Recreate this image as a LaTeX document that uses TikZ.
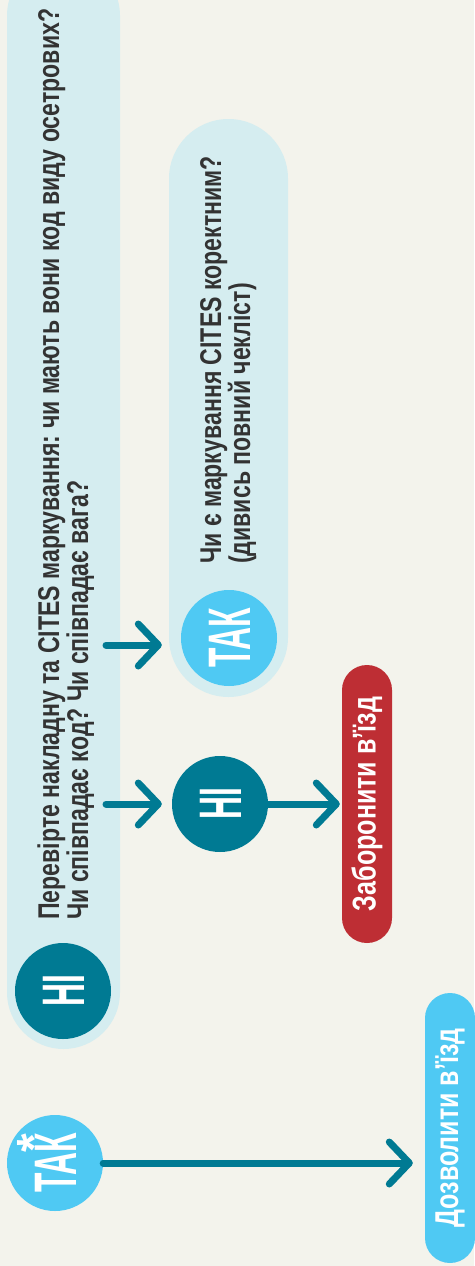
\documentclass[tikz,border=0pt]{standalone}
\usepackage{fontspec}
\setmainfont{Liberation Sans}
\newfontfamily\bodycond{Liberation Sans}[FakeStretch=0.77]
\newfontfamily\labelcond{Liberation Sans}[FakeStretch=0.76]
\newfontfamily\badgecond{Liberation Sans}[FakeStretch=0.53]
\usepackage{tikz}
\usetikzlibrary{arrows.meta, shapes.misc}
\definecolor{pageback}{HTML}{F3F3EC}
\definecolor{paleblue}{HTML}{D5EDF0}
\definecolor{deepteal}{HTML}{007A93}
\definecolor{skyblue}{HTML}{4FC9F3}
\definecolor{alarmred}{HTML}{BE2E34}
\definecolor{inkgrey}{HTML}{333333}
\frenchspacing
\tikzset{pill/.style={rounded rectangle, rotate=90, inner sep=0pt, fill=#1},
    badge/.style={circle, fill=#1, minimum size=96pt, inner sep=0pt, rotate=90, text=white,
        text height=43pt, text depth=0pt, font=\badgecond\bfseries\fontsize{60}{60}\selectfont},
    question/.style={rotate=90, anchor=base west, align=left, inner sep=0pt, text=inkgrey,
        font=\bodycond\bfseries\fontsize{30}{29}\selectfont},
    verdict/.style={text=white, font=\labelcond\bfseries\fontsize{33}{33}\selectfont},
    flow/.style={deepteal, line width=7pt, line cap=round, -{Straight Barb[length=20pt,width=42pt,round]}}}

\begin{document}
\begin{tikzpicture}[x=1pt, y=1pt]
    \fill[pageback] (0,0) rectangle (474,-1266);
    \useasboundingbox (0,0) rectangle (474,-1266);

    % invoice and CITES labels
    \node [pill=paleblue, minimum width=1090pt, minimum height=113pt] (invoice) at (63.5,-504) {};
    \node [badge=deepteal] (no1) at (63,-991) {НІ};
    \node [question] (q1) at (88,-920) {Перевірте накладну та CITES маркування: чи мають вони код виду осетрових?\\
        Чи співпадає код? Чи співпадає вага?};

    % CITES marking check
    \node [pill=paleblue, minimum width=578pt, minimum height=119pt] (cites) at (228.5,-408) {};
    \node [badge=skyblue] (yes2) at (229,-638) {ТАК};
    \node [question] (q2) at (250,-564) {Чи є маркування CITES коректним?\\(дивись повний чекліст)};

    \node [badge=deepteal] (no2) at (220,-804) {НІ};
    \node [pill=alarmred, verdict, minimum width=278pt, minimum height=50pt] (deny) at (367,-804) {Заборонити в’їзд};

    \node [badge=skyblue] (yes1) at (55,-1163) {ТАК\llap{\smash{\raisebox{26pt}{\rmfamily\fontsize{48}{48}\selectfont *}}\kern1pt}};
    \node [pill=skyblue, verdict, minimum width=270pt, minimum height=50pt] (allow) at (450,-1128) {Дозволити в’їзд};

    \coordinate (s1) at (106,-645);
    \coordinate (s2) at (106,-804);

    \draw[flow, shorten >=7pt] (s1) -- (s1 -| cites.north);
    \draw[flow, shorten >=10pt] (s2) -- (no2);
    \draw[flow, shorten >=2pt] (no2) -- (deny);
    \draw[flow, shorten >=12pt] (yes1) -- (yes1 -| allow.north);
\end{tikzpicture}
\end{document}
